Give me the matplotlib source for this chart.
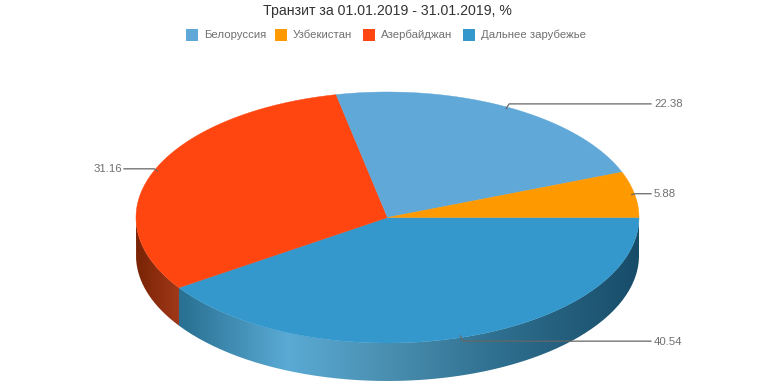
import numpy as np
import matplotlib
matplotlib.use('Agg')
import matplotlib.pyplot as plt
from matplotlib.colors import LinearSegmentedColormap
from matplotlib.patches import PathPatch, Rectangle
from matplotlib.path import Path

plt.rcParams['font.family'] = ['Liberation Sans', 'DejaVu Sans']

title = 'Транзит за 01.01.2019 - 31.01.2019, %'
legend_names = ['Белоруссия', 'Узбекистан', 'Азербайджан', 'Дальнее зарубежье']
legend_colors = ['#5fa8d8', '#ff9900', '#ff4610', '#3498cc']

# draw order goes clockwise from 3 o'clock
names = ['Дальнее зарубежье', 'Азербайджан', 'Белоруссия', 'Узбекистан']
values = [40.54, 31.16, 22.38, 5.88]
colors = ['#3498cc', '#ff4610', '#5fa8d8', '#ff9900']

cx, cy, rx, ry, depth = 387.5, 217.5, 251.5, 125.5, 38


def ell(t):
    t = np.radians(t)
    return cx + rx * np.cos(t), cy + ry * np.sin(t)


fig = plt.figure(figsize=(7.74, 3.87), dpi=100)
ax = fig.add_axes([0, 0, 1, 1])
ax.set_xlim(0, 774)
ax.set_ylim(387, 0)
ax.axis('off')

edges = np.cumsum([0] + values) / sum(values) * 360

# side walls, gradient runs left to right across the whole pie
side_maps = {
    '#3498cc': LinearSegmentedColormap.from_list('b', [
        (0, '#236a8c'), (0.09, '#2a7193'), (0.3, '#5aaad5'), (0.5, '#4a8fb0'),
        (0.72, '#2f6f8f'), (1, '#184d69')]),
    '#ff4610': LinearSegmentedColormap.from_list('r', [
        (0, '#7a2306'), (0.09, '#a33a1a'), (1, '#a33a1a')]),
}
for i, c in enumerate(colors):
    a, b = edges[i], min(edges[i + 1], 180)
    if a >= 180:
        continue
    t = np.linspace(a, b, 120)
    x, y = ell(t)
    px = np.r_[x, x[::-1]]
    py = np.r_[y, y[::-1] + depth]
    patch = PathPatch(Path(np.c_[px, py]), fc='none', ec='none')
    ax.add_patch(patch)
    grad = np.linspace(0, 1, 504).reshape(1, -1)
    im = ax.imshow(grad, cmap=side_maps[c], extent=(cx - rx, cx + rx, 387, 0),
                   aspect='auto', zorder=1)
    im.set_clip_path(patch)
ax.set_xlim(0, 774)
ax.set_ylim(387, 0)

# top of the pie
for i, c in enumerate(colors):
    t = np.linspace(edges[i], edges[i + 1], 200)
    x, y = ell(t)
    ax.fill(np.r_[cx, x], np.r_[cy, y], color=c, lw=0.3, zorder=2)

# leader lines and value labels
for i, v in enumerate(values):
    mid = (edges[i] + edges[i + 1]) / 2
    x0, y0 = ell(mid)
    x0 -= 3 * np.cos(np.radians(mid))
    y0 -= 1.5 * np.sin(np.radians(mid))
    right = x0 > cx
    yl = y0 + 5.3 * np.sin(np.radians(mid))
    xe = x0 + (3 if right else -3)
    xl = 651 if right else 124
    ax.plot([x0, xe, xl], [y0, yl, yl], color='#666666', lw=0.9, zorder=3)
    ax.text(xl + 3 if right else xl - 2, yl + 0.5, '%.2f' % v, color='#707070', fontsize=8.2,
            ha='left' if right else 'right', va='center', zorder=4)

ax.text(387, 11.5, title, color='#333333', fontsize=10.2, ha='center', va='center')

legend_x = [186, 275, 363, 463]
for lx, name, c in zip(legend_x, legend_names, legend_colors):
    ax.add_patch(Rectangle((lx, 28.5), 12, 12, fc=c, ec='none'))
    ax.text(lx + 18, 34.5, name, color='#707070', fontsize=8.2, ha='left', va='center')

fig.savefig('out.png', dpi=100)
